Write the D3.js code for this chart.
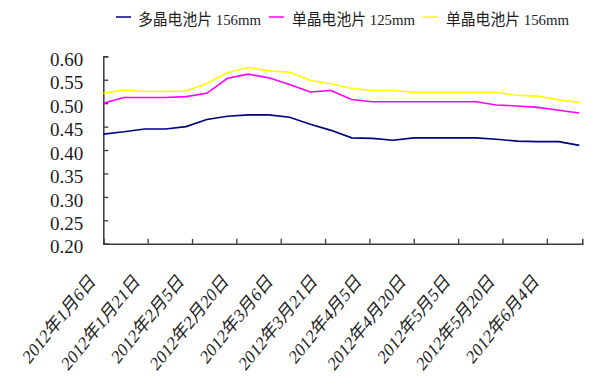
<!DOCTYPE html>
<meta charset="utf-8">
<style>
  body { margin: 0; background: #fff; }
  text { fill: #1e1e1e; }
</style>
<svg width="594" height="389"></svg>
<script src="https://d3js.org/d3.v7.min.js"></script>
<script>

// weekly price dates
var dates = ["2012-01-06","2012-01-13","2012-01-20","2012-01-27","2012-02-03","2012-02-10",
             "2012-02-17","2012-02-24","2012-03-02","2012-03-09","2012-03-16","2012-03-23",
             "2012-03-30","2012-04-06","2012-04-13","2012-04-20","2012-04-27","2012-05-04",
             "2012-05-11","2012-05-18","2012-05-25","2012-06-01","2012-06-08","2012-06-15"];

var poly156 = [0.434,0.439,0.445,0.445,0.450,0.465,0.472,0.475,0.475,0.470,0.455,0.442,
               0.426,0.425,0.421,0.426,0.426,0.426,0.426,0.423,0.419,0.418,0.418,0.410];
var mono125 = [0.500,0.512,0.512,0.512,0.514,0.521,0.553,0.562,0.554,0.540,0.524,0.527,
               0.508,0.503,0.503,0.503,0.503,0.503,0.503,0.496,0.494,0.491,0.485,0.479];
var mono156 = [0.521,0.528,0.525,0.525,0.526,0.542,0.565,0.576,0.569,0.566,0.549,0.541,
               0.532,0.527,0.527,0.523,0.523,0.523,0.523,0.523,0.517,0.515,0.507,0.502];

var seriesNames = ["多晶电池片 156mm", "单晶电池片 125mm", "单晶电池片 156mm"];

var tickDates = ["2012-01-06","2012-01-21","2012-02-05","2012-02-20","2012-03-06","2012-03-21",
                 "2012-04-05","2012-04-20","2012-05-05","2012-05-20","2012-06-04"];
var tickLabels = ["2012年1月6日","2012年1月21日","2012年2月5日","2012年2月20日","2012年3月6日",
                  "2012年3月21日","2012年4月5日","2012年4月20日","2012年5月5日","2012年5月20日",
                  "2012年6月4日"];

var yTicks = [0.20, 0.25, 0.30, 0.35, 0.40, 0.45, 0.50, 0.55, 0.60];

var svg = d3.select("svg");
var parse = d3.timeParse("%Y-%m-%d");

var axisColor = "#3a3a3a";
var fontFam = "'Liberation Serif', 'Noto Sans CJK SC', serif";
var colors = ["#000080", "#ff00ff", "#ffff00"];

var x = d3.scaleTime()
    .domain([parse("2012-01-06"), parse("2012-06-16")])
    .range([103.3, 582.3]);

var y = d3.scaleLinear()
    .domain([0.2, 0.6])
    .range([243.8, 56.3]);

// y axis, ticks point inward
var yAxis = svg.append("g")
    .attr("transform", "translate(103.3,0)")
    .call(d3.axisLeft(y).tickValues(yTicks).tickSize(-5).tickPadding(20)
        .tickFormat(d3.format(".2f")));
yAxis.select(".domain").attr("stroke", axisColor).attr("stroke-width", 1.5);
yAxis.selectAll(".tick line").attr("stroke", axisColor).attr("stroke-width", 1.3);
yAxis.selectAll(".tick text")
    .attr("dy", "0.48em")
    .style("font-family", fontFam)
    .style("font-size", "19px");

// x axis, ticks point up
var xAxis = svg.append("g")
    .attr("transform", "translate(0,243.8)")
    .call(d3.axisBottom(x).tickValues(tickDates.map(parse)).tickSize(-5).tickFormat(""));
xAxis.select(".domain").attr("stroke", axisColor).attr("stroke-width", 1.5);
xAxis.selectAll(".tick line").attr("stroke", axisColor).attr("stroke-width", 1.3);

svg.append("g").selectAll("text")
    .data(tickDates)
    .enter().append("text")
    .attr("transform", function(d) {
        return "translate(" + (x(parse(d)) - 7) + ",282) scale(0.81,1) rotate(-45)";
    })
    .attr("text-anchor", "end")
    .style("font-family", fontFam)
    .style("font-size", "19.5px")
    .text(function(d, i) { return tickLabels[i]; });

// lines
var series = [poly156, mono125, mono156];
var line = d3.line()
    .x(function(d, i) { return x(parse(dates[i])); })
    .y(function(d) { return y(d); });

svg.append("g").selectAll("path")
    .data(series)
    .enter().append("path")
    .attr("d", line)
    .attr("fill", "none")
    .attr("stroke", function(d, i) { return colors[i]; })
    .attr("stroke-width", 1.6);

// legend
var legendLines = [116, 269, 423];
var legendText = [138, 292, 446];
var legend = svg.append("g");
legend.selectAll("line")
    .data(seriesNames)
    .enter().append("line")
    .attr("x1", function(d, i) { return legendLines[i]; })
    .attr("x2", function(d, i) { return legendLines[i] + 15; })
    .attr("y1", 17).attr("y2", 17)
    .attr("stroke", function(d, i) { return colors[i]; })
    .attr("stroke-width", 1.5);
legend.selectAll("text")
    .data(seriesNames)
    .enter().append("text")
    .attr("x", function(d, i) { return legendText[i]; })
    .attr("y", 25)
    .attr("textLength", 123)
    .attr("lengthAdjust", "spacingAndGlyphs")
    .style("font-family", fontFam)
    .style("font-size", "15.5px")
    .text(function(d) { return d; });

</script>
